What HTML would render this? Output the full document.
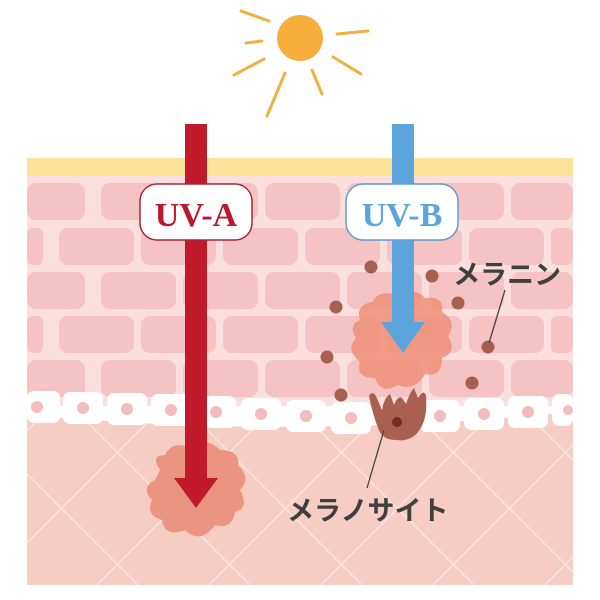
<!DOCTYPE html>
<html><head><meta charset="utf-8"><style>
html,body{margin:0;padding:0;background:#fff;width:600px;height:600px;overflow:hidden}
#w{position:absolute;left:0;top:0;width:600px;height:600px;overflow:hidden}
svg{display:block;position:absolute;left:0;top:0}
</style></head><body><div id="w">
<svg width="600" height="600" viewBox="0 0 600 600" overflow="hidden" xmlns="http://www.w3.org/2000/svg">
<defs>
<clipPath id="derm"><path d="M27 415 Q300 440 573 412 L573 585 L27 585 Z"/></clipPath>
</defs>
<g stroke="#f2b040" stroke-width="3" stroke-linecap="round" fill="none">
<line x1="241" y1="11" x2="269" y2="21"/>
<line x1="246" y1="43" x2="262" y2="41"/>
<line x1="234" y1="75" x2="264" y2="59"/>
<line x1="267" y1="116" x2="285" y2="73"/>
<line x1="312" y1="70" x2="322" y2="94"/>
<line x1="333" y1="57" x2="361" y2="74"/>
<line x1="337" y1="34" x2="368" y2="31"/>
</g>
<circle cx="300" cy="38" r="23" fill="#f6ae3b"/>
<rect x="27" y="158" width="546" height="20" fill="#fbe39a"/>
<rect x="27" y="176" width="546" height="230" fill="#fbdede"/>
<g fill="#f5c3c3">
<rect x="27" y="183" width="58" height="37" rx="9"/>
<rect x="101" y="183" width="75" height="37" rx="9"/>
<rect x="183" y="183" width="75" height="37" rx="9"/>
<rect x="265" y="183" width="75" height="37" rx="9"/>
<rect x="347" y="183" width="75" height="37" rx="9"/>
<rect x="429" y="183" width="75" height="37" rx="9"/>
<rect x="511" y="183" width="62" height="37" rx="9"/>

<rect x="27" y="228" width="16" height="37" rx="6"/>
<rect x="59" y="228" width="75" height="37" rx="9"/>
<rect x="141" y="228" width="75" height="37" rx="9"/>
<rect x="223" y="228" width="75" height="37" rx="9"/>
<rect x="305" y="228" width="75" height="37" rx="9"/>
<rect x="387" y="228" width="75" height="37" rx="9"/>
<rect x="469" y="228" width="75" height="37" rx="9"/>
<rect x="551" y="228" width="22" height="37" rx="6"/>

<rect x="27" y="272" width="58" height="37" rx="9"/>
<rect x="101" y="272" width="75" height="37" rx="9"/>
<rect x="183" y="272" width="75" height="37" rx="9"/>
<rect x="265" y="272" width="75" height="37" rx="9"/>
<rect x="347" y="272" width="75" height="37" rx="9"/>
<rect x="429" y="272" width="75" height="37" rx="9"/>
<rect x="511" y="272" width="62" height="37" rx="9"/>

<rect x="27" y="316" width="16" height="37" rx="6"/>
<rect x="59" y="316" width="75" height="37" rx="9"/>
<rect x="141" y="316" width="75" height="37" rx="9"/>
<rect x="223" y="316" width="75" height="37" rx="9"/>
<rect x="305" y="316" width="75" height="37" rx="9"/>
<rect x="387" y="316" width="75" height="37" rx="9"/>
<rect x="469" y="316" width="75" height="37" rx="9"/>
<rect x="551" y="316" width="22" height="37" rx="6"/>

<rect x="27" y="360" width="58" height="37" rx="9"/>
<rect x="101" y="360" width="75" height="37" rx="9"/>
<rect x="183" y="360" width="75" height="37" rx="9"/>
<rect x="265" y="360" width="75" height="37" rx="9"/>
<rect x="347" y="360" width="75" height="37" rx="9"/>
<rect x="429" y="360" width="75" height="37" rx="9"/>
<rect x="511" y="360" width="62" height="37" rx="9"/>
</g>
<path d="M27 415 Q300 440 573 412 L573 585 L27 585 Z" fill="#f6cdc2"/>
<g clip-path="url(#derm)" stroke="#fbe6e0" stroke-width="1.5">
<line x1="27" y1="431" x2="58" y2="400"/>
<line x1="27" y1="543" x2="170" y2="400"/>
<line x1="97" y1="585" x2="282" y2="400"/>
<line x1="209" y1="585" x2="394" y2="400"/>
<line x1="321" y1="585" x2="506" y2="400"/>
<line x1="433" y1="585" x2="573" y2="445"/>
<line x1="545" y1="585" x2="573" y2="557"/>
<line x1="27" y1="474" x2="138" y2="585"/>
<line x1="65" y1="400" x2="250" y2="585"/>
<line x1="177" y1="400" x2="362" y2="585"/>
<line x1="289" y1="400" x2="474" y2="585"/>
<line x1="401" y1="400" x2="573" y2="572"/>
<line x1="513" y1="400" x2="573" y2="460"/>
</g>
<g fill="#fff">
<rect x="27" y="391" width="33" height="32" rx="7"/>
<rect x="63" y="392" width="40" height="32" rx="7"/>
<rect x="107" y="393" width="40" height="32" rx="7"/>
<rect x="151" y="394" width="40" height="32" rx="7"/>
<rect x="196" y="396" width="40" height="32" rx="7"/>
<rect x="241" y="398" width="40" height="32" rx="7"/>
<rect x="286" y="400" width="40" height="32" rx="7"/>
<rect x="331" y="402" width="40" height="32" rx="7"/>
<rect x="420" y="400" width="40" height="32" rx="7"/>
<rect x="464" y="398" width="40" height="32" rx="7"/>
<rect x="508" y="396" width="40" height="32" rx="7"/>
<rect x="552" y="394" width="21" height="32" rx="7"/>
</g>
<g fill="#f3bcbf">
<circle cx="37" cy="407" r="6"/><circle cx="83" cy="408" r="6"/><circle cx="127" cy="409" r="6"/>
<circle cx="171" cy="410" r="6"/><circle cx="216" cy="412" r="6"/><circle cx="261" cy="414" r="6"/>
<circle cx="306" cy="416" r="6"/><circle cx="351" cy="418" r="6"/><circle cx="440" cy="416" r="6"/>
<circle cx="484" cy="414" r="6"/><circle cx="528" cy="412" r="6"/><circle cx="568" cy="410" r="5"/>
</g>
<path d="M160 470 Q150 455 165 455 Q172 440 190 448 Q205 435 220 450 Q240 450 238 465 Q252 478 240 490 Q250 508 235 512 Q232 530 215 525 Q200 545 185 530 Q165 538 162 520 Q145 515 152 500 Q140 488 155 480 Z" fill="#eb9580"/>
<path d="M360 320 Q355 305 372 302 Q380 288 398 296 Q412 285 425 298 Q445 296 442 312 Q458 322 448 336 Q458 352 442 358 Q442 378 425 374 Q415 392 398 385 Q380 395 375 378 Q355 378 360 362 Q345 350 356 338 Q348 325 360 320 Z" fill="#ee8f78" opacity="0.85"/>
<g fill="#a6604f">
<circle cx="371" cy="267" r="6.5"/><circle cx="432" cy="276" r="6.5"/><circle cx="336" cy="307" r="6.5"/>
<circle cx="458" cy="303" r="6.5"/><circle cx="488" cy="347" r="6.5"/><circle cx="327" cy="357" r="6.5"/>
<circle cx="341" cy="395" r="6.5"/><circle cx="472" cy="383" r="6.5"/>
</g>
<path d="M369 396 Q372 390 376 396 L382 410 Q384 398 390 394 L394 405 Q398 395 402 398 L406 404 Q410 392 414 388 L418 398 Q424 388 426 396 Q428 420 418 432 Q410 442 396 440 Q382 440 378 428 Q372 412 369 396 Z" fill="#a96050"/>
<circle cx="397" cy="422" r="5" fill="#7a2a22"/>
<rect x="185" y="124" width="22" height="360" fill="#c01a2c"/>
<polygon points="174,478 218,478 196,508" fill="#c01a2c"/>
<rect x="392" y="124" width="22" height="200" fill="#5ca4dc"/>
<polygon points="381,322 425,322 403,353" fill="#5ca4dc"/>
<rect x="140" y="184" width="112" height="56" rx="17" fill="#fff" stroke="#a8283a" stroke-width="1.5"/>
<text x="196" y="226" text-anchor="middle" font-family="Liberation Serif, serif" font-weight="bold" font-size="34" fill="#b81a2c">UV-A</text>
<rect x="346" y="184" width="112" height="56" rx="17" fill="#fff" stroke="#5f9ccd" stroke-width="1.5"/>
<text x="402" y="226" text-anchor="middle" font-family="Liberation Serif, serif" font-weight="bold" font-size="34" fill="#5ca4dc">UV-B</text>
<line x1="505" y1="290" x2="489" y2="343" stroke="#444" stroke-width="1.3"/>
<line x1="384" y1="430" x2="367" y2="488" stroke="#444" stroke-width="1.3"/>
<text x="453" y="284" font-family="Liberation Sans, 'Noto Sans CJK JP', sans-serif" font-weight="bold" font-size="27" fill="#3f3f40">メラニン</text>
<text x="287" y="520" font-family="Liberation Sans, 'Noto Sans CJK JP', sans-serif" font-weight="bold" font-size="27" fill="#3f3f40">メラノサイト</text>
</svg>
</div></body></html>
